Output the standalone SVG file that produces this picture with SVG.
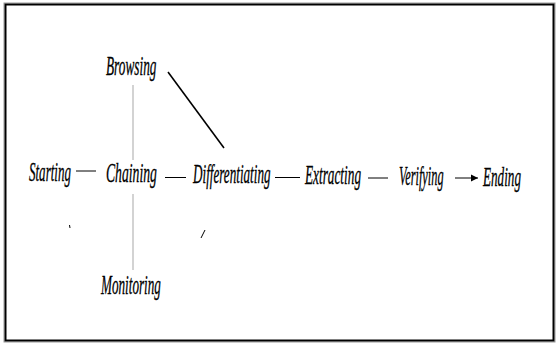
<svg xmlns="http://www.w3.org/2000/svg" width="559" height="345" viewBox="0 0 559 345">
  <style>
    .lbl { font-family: "Liberation Serif", "Times New Roman", serif; font-style: italic; font-size: 28px; fill: #000; stroke: #000; stroke-width: 0.35; }
    .link { stroke: #000; stroke-width: 1; fill: none; }
    .diag { stroke: #000; stroke-width: 1.6; fill: none; }
    .axis { stroke: #c8c8c8; stroke-width: 1.6; fill: none; }
  </style>
  <defs>
    <marker id="arrow" markerWidth="8" markerHeight="8" refX="7" refY="4" orient="auto" markerUnits="userSpaceOnUse">
      <path d="M0,0.5 L7,4 L0,7.5 Z" fill="#000"/>
    </marker>
  </defs>

  <rect x="0" y="0" width="559" height="345" fill="#fff"/>
  <!-- frame -->
  <rect x="4" y="3" width="551" height="339" fill="none" stroke="#9a9a9a" stroke-width="1"/>
  <rect x="5.5" y="4.5" width="548" height="336" fill="none" stroke="#000" stroke-width="2"/>

  <g id="connectors">
    <line class="axis" x1="133" y1="85" x2="133" y2="160"/>
    <line class="axis" x1="133" y1="194" x2="133" y2="270"/>
    <line class="diag" x1="168" y1="72" x2="224" y2="148"/>
    <line class="link" x1="76" y1="171" x2="96" y2="171"/>
    <line class="link" x1="165" y1="177.5" x2="186" y2="177.5"/>
    <line class="link" x1="275" y1="177.5" x2="300" y2="177.5"/>
    <line class="link" x1="368" y1="178" x2="388" y2="178"/>
    <line class="link" x1="455" y1="178" x2="478" y2="178" marker-end="url(#arrow)"/>
    <!-- stray marks -->
    <line class="link" x1="69.5" y1="225" x2="70" y2="228"/>
    <line class="link" x1="201" y1="238" x2="205" y2="230"/>
  </g>

  <g id="browsing"><text class="lbl" transform="translate(106,75) scale(0.475,1)">Browsing</text></g>
  <g id="starting"><text class="lbl" transform="translate(29,181) scale(0.465,1)">Starting</text></g>
  <g id="chaining"><text class="lbl" transform="translate(106,182) scale(0.489,1)">Chaining</text></g>
  <g id="differentiating"><text class="lbl" transform="translate(193,183) scale(0.469,1)">Differentiating</text></g>
  <g id="extracting"><text class="lbl" transform="translate(305,184) scale(0.474,1)">Extracting</text></g>
  <g id="verifying"><text class="lbl" transform="translate(399,185) scale(0.441,1)">Verifying</text></g>
  <g id="ending"><text class="lbl" transform="translate(483,186) scale(0.47,1)">Ending</text></g>
  <g id="monitoring"><text class="lbl" transform="translate(101,294) scale(0.47,1)">Monitoring</text></g>
</svg>
